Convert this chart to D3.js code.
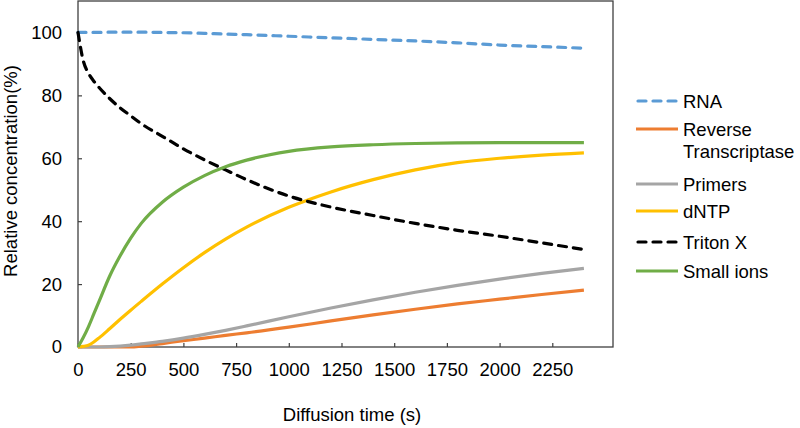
<!DOCTYPE html>
<html><head><meta charset="utf-8">
<script src="https://cdn.jsdelivr.net/npm/d3@7/dist/d3.min.js"></script>
<style>body{margin:0;background:#fff}svg{display:block;font-family:"Liberation Sans",Arial,sans-serif}</style>
</head><body><svg id="c" width="800" height="428"></svg>
<script>
const times = [0,25,50,75,100,150,200,250,300,400,500,600,700,800,1000,1200,1400,1600,1800,2000,2200,2400];
const rna = [100,100,100,100,100,100.1,100.1,100.1,100.1,100,99.9,99.7,99.5,99.3,98.8,98.3,97.8,97.3,96.7,96.0,95.5,95.0];
const reverseTranscriptase = [0,0,0,0,0,0,0,0,0.25,1.1,2.0,2.8,3.7,4.5,6.3,8.3,10.2,12.0,13.7,15.2,16.7,18.1];
const primers = [0,0,0,0,0,0.1,0.3,0.6,1.0,1.8,2.8,4.0,5.3,6.7,9.6,12.4,15.0,17.4,19.6,21.6,23.4,25.0];
const dntp = [0,0.2,0.6,1.6,2.9,5.8,8.8,11.7,14.5,20,25.2,30,34.3,38.1,44.4,49.3,53.2,56.3,58.6,60.0,61.0,61.7];
const tritonX = [100,91,87,84.5,82.5,79,76,73.5,71,67,63,59.5,56.3,53.2,48,44.5,41.8,39.3,37.1,35.2,33.1,31.0];
const smallIons = [0,3,6.5,10.5,14.5,22.5,29,34.6,39.3,46,50.8,54.5,57.3,59.4,62.2,63.6,64.3,64.7,64.9,65,65,65];
const seriesNames = ["RNA","Reverse Transcriptase","Primers","dNTP","Triton X","Small ions"];
const seriesValues = [rna, reverseTranscriptase, primers, dntp, tritonX, smallIons];
const seriesColors = ["#5B9BD5","#ED7D31","#A5A5A5","#FFC000","#000000","#70AD47"];
const seriesDashed = [true,false,false,false,true,false];
const xTicks = [0,250,500,750,1000,1250,1500,1750,2000,2250];
const yTicks = [0,20,40,60,80,100];

const FS = 18.5;
const svg = d3.select("#c");
const L = 78, R = 613, T = 1, B = 347;
const x = d3.scaleLinear().domain([0,2538]).range([L,R]);
const y = d3.scaleLinear().domain([0,110]).range([B,T]);

// axes
const xa = svg.append("g").attr("transform",`translate(0,${B})`)
  .call(d3.axisBottom(x).tickValues(xTicks).tickFormat(d3.format("d")).tickSizeInner(-4).tickSizeOuter(0).tickPadding(12));
const ya = svg.append("g").attr("transform",`translate(${L},0)`)
  .call(d3.axisLeft(y).tickValues(yTicks).tickFormat(d3.format("d")).tickSizeInner(-4).tickSizeOuter(0).tickPadding(16));
[xa,ya].forEach(g=>{
  g.select(".domain").remove();
  g.selectAll(".tick line").attr("stroke","#404040").attr("stroke-width",1.2);
  g.selectAll(".tick text").attr("font-size",FS).attr("fill","#000").attr("font-family","Liberation Sans, Arial, sans-serif");
});
xa.selectAll(".tick text").attr("dy","0.9em");

// frame
svg.append("rect").attr("x",L).attr("y",T).attr("width",R-L).attr("height",B-T)
  .attr("fill","none").attr("stroke","#404040").attr("stroke-width",1.3);

// lines
const line = d3.line().x(d=>x(d[0])).y(d=>y(d[1])).curve(d3.curveMonotoneX);
seriesValues.forEach((vals,i)=>{
  svg.append("path").datum(times.map((t,j)=>[t,vals[j]]))
    .attr("d",line).attr("fill","none").attr("stroke",seriesColors[i])
    .attr("stroke-width",3.2)
    .attr("stroke-linecap", seriesDashed[i] ? "round" : "butt")
    .attr("stroke-dasharray", seriesDashed[i] ? "8,7" : null);
});

// axis titles
svg.append("text").attr("x",352).attr("y",421).attr("text-anchor","middle")
  .attr("font-size",FS).text("Diffusion time (s)");
svg.append("text").attr("transform","translate(17,171) rotate(-90)").attr("text-anchor","middle")
  .attr("font-size",FS).text("Relative concentration(%)");

// legend
const legY = [101,129,184,211,242,271];
const lg = svg.append("g");
seriesNames.forEach((n,i)=>{
  lg.append("line").attr("x1",seriesDashed[i]?638:636).attr("x2",seriesDashed[i]?676:678)
    .attr("y1",legY[i]).attr("y2",legY[i]).attr("stroke",seriesColors[i]).attr("stroke-width",3.2)
    .attr("stroke-linecap", seriesDashed[i] ? "round" : "butt")
    .attr("stroke-dasharray", seriesDashed[i] ? "8,7" : null);
  const t = lg.append("text").attr("x",683).attr("y",legY[i]+6.5).attr("font-size",FS);
  if (n === "Reverse Transcriptase") {
    t.append("tspan").attr("x",683).text("Reverse");
    t.append("tspan").attr("x",683).attr("dy",22).text("Transcriptase");
  } else t.text(n);
});
</script></body></html>
